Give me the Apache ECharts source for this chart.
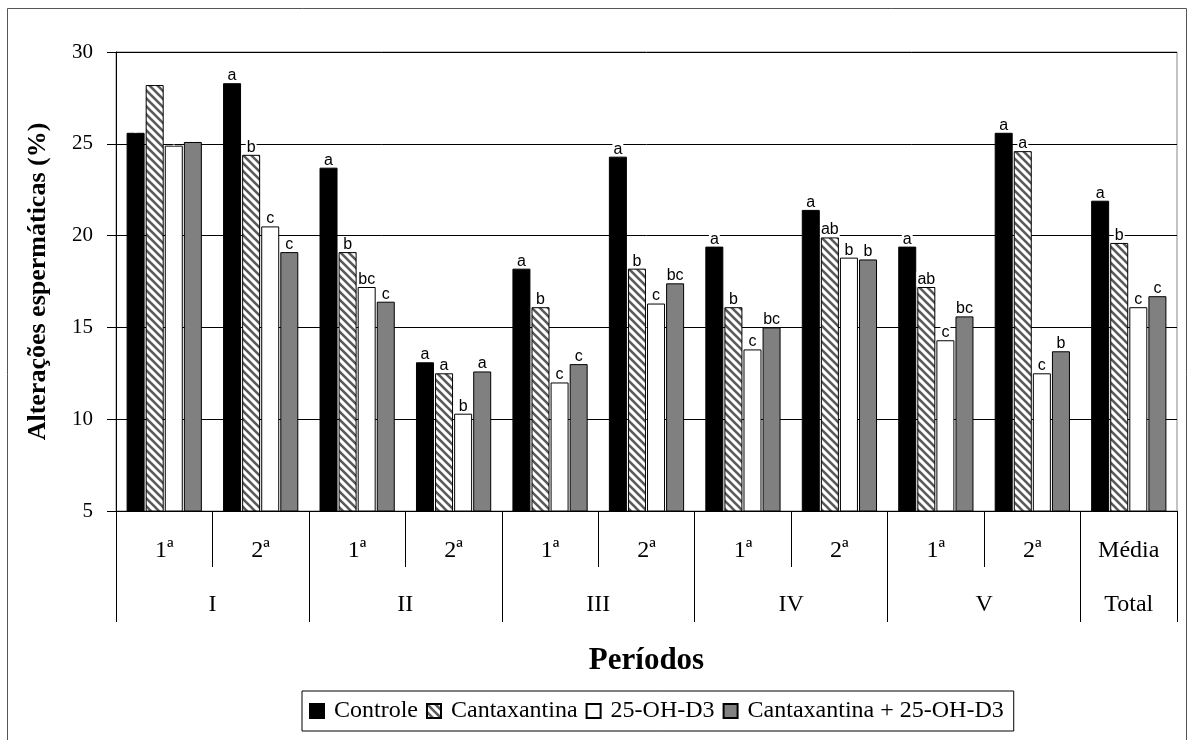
<!DOCTYPE html>
<html><head><meta charset="utf-8">
<script src="https://cdn.jsdelivr.net/npm/echarts@6/dist/echarts.min.js"></script>
<style>html,body{margin:0;padding:0;background:#fff}#c{width:1196px;height:740px}</style>
</head><body><div id="c"></div>
<script>
const subCategories = ['1ª','2ª','1ª','2ª','1ª','2ª','1ª','2ª','1ª','2ª','Média'];
const groupLabels = ['I','II','III','IV','V','Total'];
const seriesNames = ['Controle','Cantaxantina','25-OH-D3','Cantaxantina + 25-OH-D3'];
const controle     = [25.6, 28.3, 23.7, 13.1, 18.2, 24.3, 19.4, 21.4, 19.4, 25.6, 21.9];
const cantaxantina = [28.2, 24.4, 19.1, 12.5, 16.1, 18.2, 16.1, 19.9, 17.2, 24.6, 19.6];
const ohd3         = [24.9, 20.5, 17.2, 10.3, 12.0, 16.3, 13.8, 18.8, 14.3, 12.5, 16.1];
const combo        = [25.1, 19.1, 16.4, 12.6, 13.0, 17.4, 15.0, 18.7, 15.6, 13.7, 16.7];
const lettersControle     = ['', 'a','a','a','a','a','a','a','a','a','a'];
const lettersCantaxantina = ['', 'b','b','a','b','b','b','ab','ab','a','b'];
const lettersOhd3         = ['', 'c','bc','b','c','c','c','b','c','c','c'];
const lettersCombo        = ['', 'c','c','a','c','bc','bc','b','bc','b','c'];
const yTicks = [5, 10, 15, 20, 25, 30];

// hatch pattern
const pc = document.createElement('canvas');
pc.width = 8; pc.height = 8;
const g = pc.getContext('2d');
g.fillStyle = '#fff'; g.fillRect(0,0,8,8);
g.strokeStyle = '#5a5a5a'; g.lineWidth = 2.6;
g.beginPath();
g.moveTo(-2,-2); g.lineTo(10,10);
g.moveTo(-10,-2); g.lineTo(2,10);
g.moveTo(6,-2); g.lineTo(18,10);
g.stroke();
const hatch = { image: pc, repeat: 'repeat' };

// second (group) axis: 23 points along the 11 categories (half steps)
const groupCenters = [2, 6, 10, 14, 18, 21];
const groupSeps = [0, 4, 8, 12, 16, 20, 22];
const groupAxisData = [];
for (let k = 0; k <= 22; k++) {
  const gi = groupCenters.indexOf(k);
  groupAxisData.push(gi >= 0 ? groupLabels[gi] : ' ');
}

const serif = '"Liberation Serif","Times New Roman",serif';
const sans = '"Liberation Sans",Arial,sans-serif';

function mkSeries(name, data, letters, color) {
  return {
    name: name, type: 'bar', data: data, barWidth: 18, barGap: '6%',
    itemStyle: { color: color, borderColor: '#000', borderWidth: 1 },
    label: {
      show: true, position: 'top', distance: 1,
      formatter: p => letters[p.dataIndex],
      fontFamily: sans, fontSize: 16, color: '#000',
      backgroundColor: '#fff', padding: [0, 1, -1, 1], lineHeight: 15
    }
  };
}

const chart = echarts.init(document.getElementById('c'));
chart.setOption({
  animation: false,
  backgroundColor: '#fff',
  grid: { left: 116, right: 19, top: 52, bottom: 229, show: true, borderColor: '#888', borderWidth: 1 },
  legend: {
    data: seriesNames, left: 302, top: 691, orient: 'horizontal',
    itemWidth: 14, itemHeight: 14, itemGap: 8, icon: 'rect',
    borderColor: '#000', borderWidth: 1, padding: [8, 10, 8, 7],
    textStyle: { fontFamily: serif, fontSize: 24, color: '#000', padding: [0, 0, 0, 5] }
  },
  xAxis: [{
    type: 'category', data: subCategories, boundaryGap: true, position: 'bottom',
    axisLine: { lineStyle: { color: '#000' } },
    axisTick: { show: true, length: 56, lineStyle: { color: '#000' } },
    axisLabel: { interval: 0, margin: 28, fontFamily: serif, fontSize: 24, color: '#000' }
  }, {
    type: 'category', data: groupAxisData, boundaryGap: false, position: 'bottom',
    axisLine: { show: false },
    axisTick: { show: true, length: 111, interval: (i) => groupSeps.indexOf(i) >= 0, lineStyle: { color: '#000' } },
    axisLabel: { interval: (i) => groupCenters.indexOf(i) >= 0, margin: 82, fontFamily: serif, fontSize: 24, color: '#000' },
    name: 'Períodos', nameLocation: 'middle', nameGap: 134,
    nameTextStyle: { fontFamily: serif, fontSize: 31, fontWeight: 'bold', color: '#000' }
  }],
  yAxis: {
    type: 'value', min: yTicks[0], max: yTicks[yTicks.length - 1], interval: 5,
    axisLine: { show: true, lineStyle: { color: '#000' } },
    axisTick: { show: true, length: 9, lineStyle: { color: '#000' } },
    axisLabel: { margin: 23, fontFamily: serif, fontSize: 21, color: '#000' },
    splitLine: { lineStyle: { color: '#000', width: 1 } },
    name: 'Alterações espermáticas (%)', nameLocation: 'middle', nameGap: 65, nameRotate: 90,
    nameTextStyle: { fontFamily: serif, fontSize: 26, fontWeight: 'bold', color: '#000' }
  },
  graphic: [{
    type: 'rect', shape: { x: 7.5, y: 8.5, width: 1179, height: 760 },
    style: { fill: null, stroke: '#555', lineWidth: 1 }, silent: true
  }],
  series: [
    mkSeries(seriesNames[0], controle, lettersControle, '#000'),
    mkSeries(seriesNames[1], cantaxantina, lettersCantaxantina, hatch),
    mkSeries(seriesNames[2], ohd3, lettersOhd3, '#fff'),
    mkSeries(seriesNames[3], combo, lettersCombo, '#808080')
  ]
});
</script></body></html>
